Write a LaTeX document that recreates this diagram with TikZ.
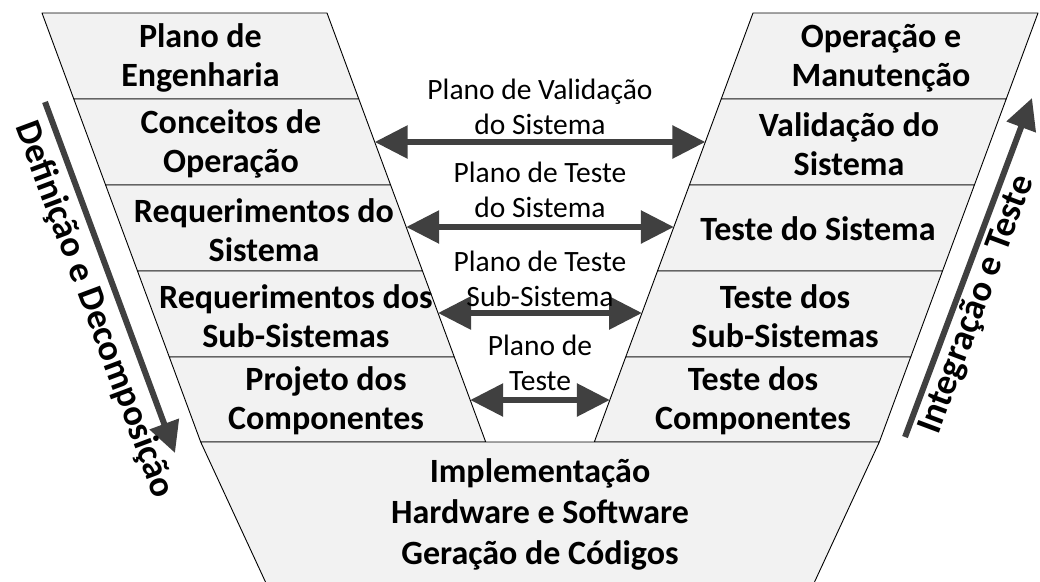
\documentclass[tikz,border=0pt]{standalone}
\usepackage{fontspec}
\setmainfont{Carlito}
\usetikzlibrary{arrows.meta}
\definecolor{bandfill}{HTML}{F2F2F2}
\definecolor{arrowgray}{HTML}{404040}
\begin{document}
\begin{tikzpicture}[x=1pt,y=-1pt,
  band/.style={fill=bandfill, draw=black, line width=0.9pt, line join=round},
  bandtext/.style={font=\fontsize{34}{39}\selectfont\bfseries, align=center, inner sep=0pt},
  plantext/.style={font=\fontsize{29.5}{35}\selectfont, align=center, inner sep=0pt},
  vtext/.style={font=\fontsize{36.5}{40}\selectfont\bfseries, inner sep=0pt},
  dblarrow/.style={draw=arrowgray, line width=6pt, arrows={Triangle[length=33pt,width=32pt]-Triangle[length=33pt,width=32pt]}},
  sidearrow/.style={draw=arrowgray, line width=6pt, arrows={-Triangle[length=31pt,width=30pt]}}
]
\useasboundingbox (0,0) rectangle (1040,581);

% left column bands
\draw[band] (42,13) -- (327,13) -- (358.8,99) -- (73.8,99) -- cycle;
\draw[band] (73.8,99) -- (358.8,99) -- (390.6,185) -- (105.6,185) -- cycle;
\draw[band] (105.6,185) -- (390.6,185) -- (422.5,271) -- (137.5,271) -- cycle;
\draw[band] (137.5,271) -- (422.5,271) -- (454.3,357) -- (169.3,357) -- cycle;
\draw[band] (169.3,357) -- (454.3,357) -- (485.7,442) -- (200.7,442) -- cycle;
% right column bands
\draw[band] (753,13) -- (1038,13) -- (1006.2,99) -- (721.2,99) -- cycle;
\draw[band] (721.2,99) -- (1006.2,99) -- (974.4,185) -- (689.4,185) -- cycle;
\draw[band] (689.4,185) -- (974.4,185) -- (942.5,271) -- (657.5,271) -- cycle;
\draw[band] (657.5,271) -- (942.5,271) -- (910.7,357) -- (625.7,357) -- cycle;
\draw[band] (625.7,357) -- (910.7,357) -- (879.3,442) -- (594.3,442) -- cycle;
% bottom band
\draw[band] (200.7,442) -- (879.3,442) -- (810.8,590) -- (269.2,590) -- cycle;

% band labels
\node[bandtext] (pe) at (200.4,58) {Plano de\\Engenharia};
\node[bandtext] (co) at (231,144) {Conceitos de\\Operação};
\node[bandtext] (rs) at (264,230) {Requerimentos do\\Sistema};
\node[bandtext] (rss) at (295.9,316) {Requerimentos dos\\Sub-Sistemas};
\node[bandtext] (pc) at (326,401) {Projeto dos\\Componentes};
\node[bandtext] (om) at (881,58) {Operação e\\Manutenção};
\node[bandtext] (vs) at (849,144) {Validação do\\Sistema};
\node[bandtext] (ts) at (818,229) {Teste do Sistema};
\node[bandtext] (tss) at (785,316) {Teste dos\\Sub-Sistemas};
\node[bandtext] (tc) at (753,401) {Teste dos\\Componentes};
\node[bandtext, font=\fontsize{34}{41}\selectfont\bfseries] (imp) at (540,514) {Implementação\\Hardware e Software\\Geração de Códigos};

% arrow end points on band edges
\coordinate (a1l) at (374.7,142);
\coordinate (a1r) at (705.3,142);
\coordinate (a2l) at (406.2,227);
\coordinate (a2r) at (673.8,227);
\coordinate (a3l) at (438,313);
\coordinate (a3r) at (642,313);
\coordinate (a4l) at (470.2,400);
\coordinate (a4r) at (609.8,400);
\draw[dblarrow] (a1l) -- (a1r);
\draw[dblarrow] (a2l) -- (a2r);
\draw[dblarrow] (a3l) -- (a3r);
\draw[dblarrow] (a4l) -- (a4r);

% plan labels
\node[plantext] (p1) at (540,107) {Plano de Validação\\do Sistema};
\node[plantext] (p2) at (540,190) {Plano de Teste\\do Sistema};
\node[plantext] (p3) at (540,279) {Plano de Teste\\Sub-Sistema};
\node[plantext] (p4) at (540,363) {Plano de\\Teste};

% side arrows
\coordinate (ls) at (45,102);
\coordinate (le) at (175,453);
\coordinate (rs0) at (905,437);
\coordinate (re) at (1032,98);
\draw[sidearrow] (ls) -- (le);
\draw[sidearrow] (rs0) -- (re);
\node[vtext, rotate=-69.5] (dd) at (94,310) {Definição e Decomposição};
\node[vtext, rotate=69.5] (it) at (977,305) {Integração e Teste};
\end{tikzpicture}
\end{document}
